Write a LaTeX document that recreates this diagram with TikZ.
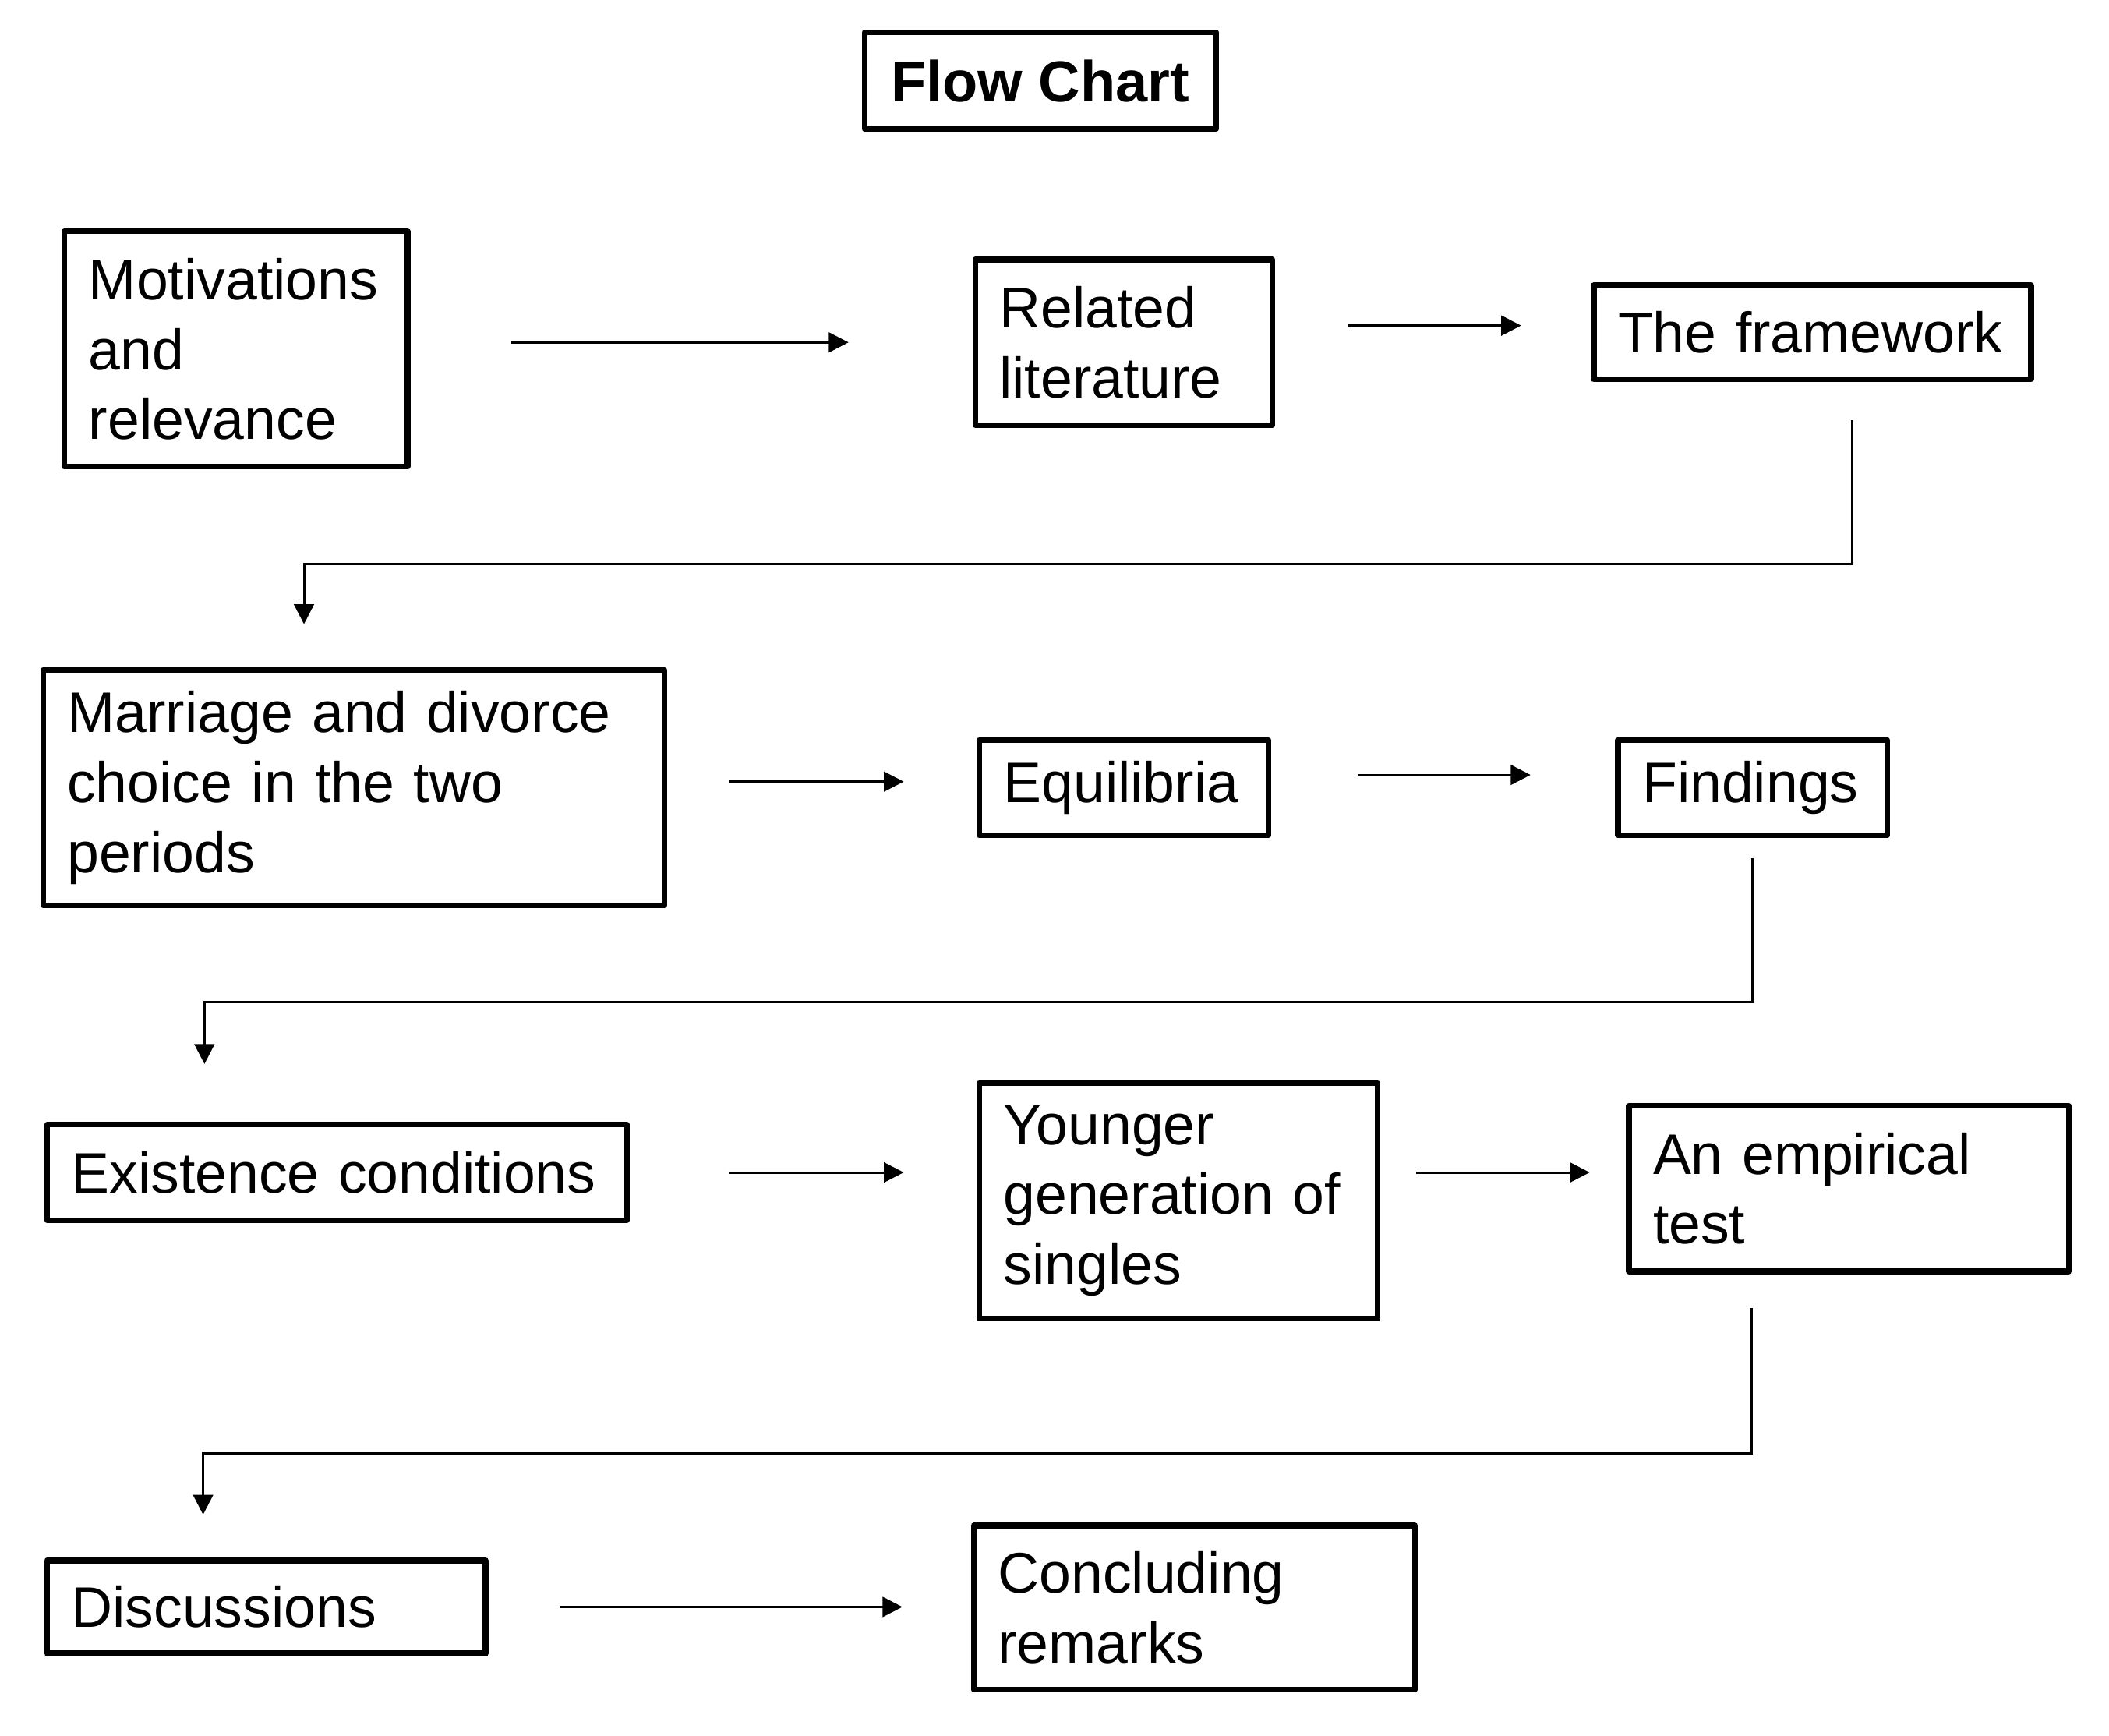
\documentclass[tikz,border=0pt]{standalone}
\usepackage{fontspec}
\setmainfont{Liberation Sans}
\usepackage{tikz}
\usetikzlibrary{arrows.meta,positioning,calc}

\begin{document}
\begin{tikzpicture}[
  >={Triangle[length=4.2pt,width=4.2pt]},
  blk/.style={draw, line width=1.2pt, line join=round, align=left,
              inner xsep=1.8mm, inner ysep=0pt,
              font=\fontsize{12.1}{14.8}\selectfont},
  ttl/.style={blk, align=center, font=\fontsize{12.2}{14.8}\selectfont\bfseries},
  arr/.style={->, line width=0.5pt}]
\useasboundingbox (0,0) rectangle (15.68,-12.90);
% title
\node[ttl, minimum width=2.61cm, minimum height=0.72cm] (title) at (7.735,-0.60) {Flow Chart};
% first row
\node[blk, text width=2.19cm, minimum height=1.75cm] (motiv) at (1.755,-2.595) {Motivations\\and\\relevance};
\node[blk, text width=1.85cm, minimum height=1.23cm] (lit) at (8.355,-2.545) {Related\\literature};
\node[blk, text width=2.89cm, minimum height=0.70cm] (frame) at (13.475,-2.47) {The framework};
% second row
\node[blk, text width=4.26cm, minimum height=1.75cm] (marr) at (2.63,-5.855) {Marriage and divorce\\choice in the two\\periods};
\node[blk, text width=1.79cm, minimum height=0.71cm] (equil) at (8.355,-5.855) {Equilibria};
\node[blk, text width=1.64cm, minimum height=0.71cm] (find) at (13.03,-5.855) {Findings};
% third row
\node[blk, text width=3.95cm, minimum height=0.71cm] (exist) at (2.505,-8.715) {Existence conditions};
\node[blk, text width=2.60cm, minimum height=1.75cm] (young) at (8.76,-8.925) {Younger\\generation of\\singles};
\node[blk, text width=2.91cm, minimum height=1.23cm] (empir) at (13.745,-8.835) {An empirical\\test};
% fourth row
\node[blk, text width=2.90cm, minimum height=0.69cm] (disc) at (1.98,-11.945) {Discussions};
\node[blk, text width=2.92cm, minimum height=1.22cm] (concl) at (8.88,-11.95) {Concluding\\remarks};
% connectors
\draw[arr, shorten <=7.5mm, shorten >=9.2mm] (motiv.east |- lit.west) -- (lit.west);
\draw[arr, shorten <=5.4mm, shorten >=5.2mm] ([yshift=0.5mm]lit.east |- frame.west) -- ([yshift=0.5mm]frame.west);
\draw[arr, shorten <=2.8mm, shorten >=3.2mm] ([xshift=2.95mm]frame.south) -- ++(0,-1.35) -| ([xshift=-3.7mm]marr.north);
\draw[arr, shorten <=4.6mm, shorten >=5.4mm] ([yshift=0.45mm]marr.east) -- ([yshift=0.45mm]equil.west);
\draw[arr, shorten <=6.4mm, shorten >=6.3mm] ([yshift=0.95mm]equil.east) -- ([yshift=0.95mm]find.west);
\draw[arr, shorten <=1.5mm, shorten >=4.3mm] (find.south) -- ++(0,-1.22) -| ([xshift=-9.85mm]exist.north);
\draw[arr, shorten <=7.4mm, shorten >=5.4mm] (exist.east) -- (exist.east -| young.west);
\draw[arr, shorten <=2.7mm, shorten >=2.7mm] (young.east |- exist.east) -- (empir.west |- exist.east);
\draw[arr, shorten <=2.5mm, shorten >=3.2mm] ([xshift=-7.25mm]empir.south) -- ++(0,-1.33) -| ([xshift=-4.7mm]disc.north);
\draw[arr, shorten <=5.3mm, shorten >=5.1mm] (disc.east) -- (disc.east -| concl.west);
\end{tikzpicture}
\end{document}
